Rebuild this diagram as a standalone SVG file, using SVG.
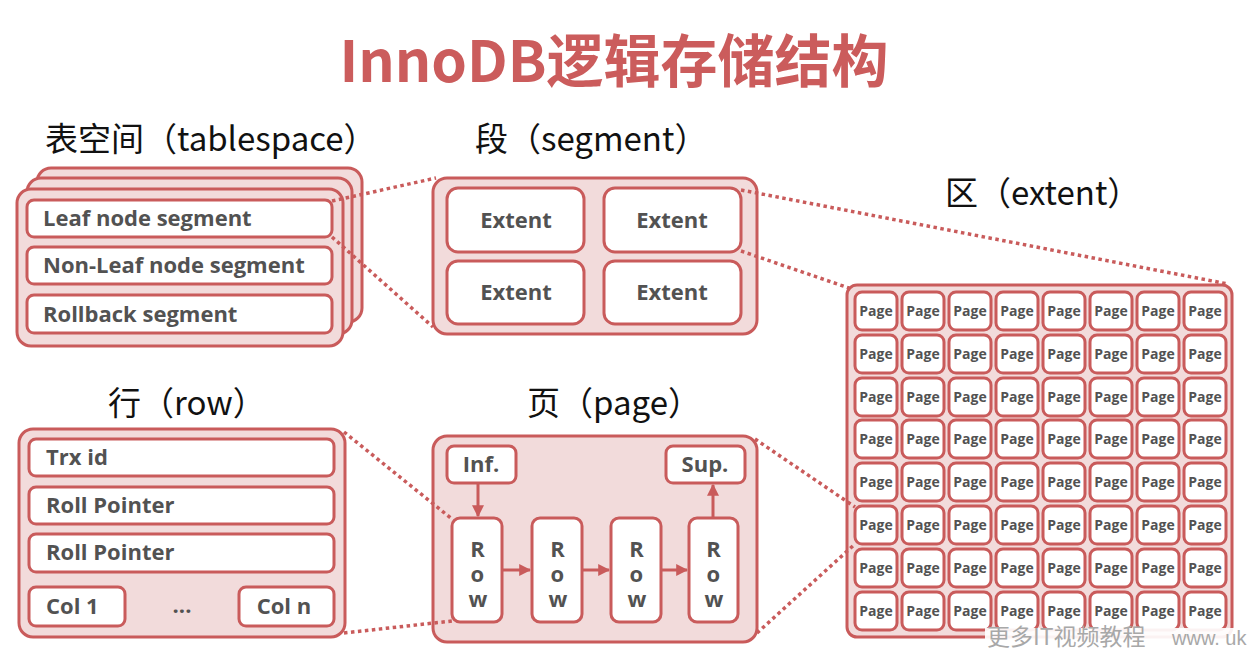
<svg xmlns="http://www.w3.org/2000/svg" width="1252" height="656" viewBox="0 0 1252 656">
<style>
.outer{fill:#F2DBDB;stroke:#C95B5B;stroke-width:3}
.inner{fill:#FFFFFF;stroke:#C95B5B;stroke-width:3}
.t{font-family:"Open Sans","Noto Sans CJK SC",sans-serif;font-weight:bold;font-size:22px;fill:#525252}
.c{text-anchor:middle}
.v{writing-mode:vertical-rl;text-orientation:upright;letter-spacing:-5px;text-anchor:middle}
.lbl{font-family:"Noto Sans CJK SC",sans-serif;font-size:33px;fill:#111111}
.dot{stroke:#C95B5B;stroke-width:3.5;stroke-dasharray:3.5 3.5;fill:none}
.arr{stroke:#C95B5B;stroke-width:3;fill:none}
.pg{font-family:"Open Sans","Noto Sans CJK SC",sans-serif;font-weight:bold;font-size:14px;fill:#525252;text-anchor:middle}
</style>
<defs>
<marker id="ah" viewBox="0 0 10 10" refX="9" refY="5" markerWidth="4" markerHeight="4" orient="auto" markerUnits="strokeWidth">
<path d="M0,0 L10,5 L0,10 z" fill="#C95B5B"/>
</marker>
<symbol id="page" overflow="visible">
<rect class="inner" x="0" y="0" width="42" height="38" rx="7"/>
<text class="pg" x="21" y="24">Page</text>
</symbol>
</defs>
<rect x="0" y="0" width="1252" height="656" fill="#FFFFFF"/>

<text id="title" x="614" y="82" text-anchor="middle" font-family="'Noto Sans CJK SC',sans-serif" font-weight="bold" font-size="57" fill="#CB5C5C">InnoDB逻辑存储结构</text>

<text class="lbl" x="45" y="151">表空间（tablespace）</text>
<text class="lbl" x="475" y="151">段（segment）</text>
<text class="lbl" x="945" y="205">区（extent）</text>
<text class="lbl" x="108" y="415">行（row）</text>
<text class="lbl" x="527" y="415">页（page）</text>

<g id="tablespace">
<rect class="outer" x="37" y="168" width="325" height="154" rx="14"/>
<rect class="outer" x="27" y="178" width="325" height="156" rx="14"/>
<rect class="outer" x="17" y="189" width="326" height="157" rx="14"/>
<g id="leaf-segment"><rect class="inner" x="27" y="200" width="305" height="37" rx="7"/><text class="t" x="43" y="226">Leaf node segment</text></g>
<g id="nonleaf-segment"><rect class="inner" x="27" y="247" width="305" height="37" rx="7"/><text class="t" x="43" y="273">Non-Leaf node segment</text></g>
<g id="rollback-segment"><rect class="inner" x="27" y="295" width="305" height="38" rx="7"/><text class="t" x="43" y="322">Rollback segment</text></g>
</g>

<g id="segment">
<rect class="outer" x="433" y="178" width="324" height="156" rx="14"/>
<g id="extent-1"><rect class="inner" x="447" y="188" width="137" height="64" rx="11"/><text class="t c" x="516" y="228">Extent</text></g>
<g id="extent-2"><rect class="inner" x="604" y="188" width="137" height="64" rx="11"/><text class="t c" x="672" y="228">Extent</text></g>
<g id="extent-3"><rect class="inner" x="447" y="261" width="137" height="63" rx="11"/><text class="t c" x="516" y="300">Extent</text></g>
<g id="extent-4"><rect class="inner" x="604" y="261" width="137" height="63" rx="11"/><text class="t c" x="672" y="300">Extent</text></g>
</g>

<g id="extent">
<rect class="outer" x="847" y="285" width="385" height="352" rx="10"/>
<g id="pages-r1"><use href="#page" x="855" y="292"/><use href="#page" x="902" y="292"/><use href="#page" x="949" y="292"/><use href="#page" x="996" y="292"/><use href="#page" x="1043" y="292"/><use href="#page" x="1090" y="292"/><use href="#page" x="1137" y="292"/><use href="#page" x="1184" y="292"/></g>
<g id="pages-r2"><use href="#page" x="855" y="335"/><use href="#page" x="902" y="335"/><use href="#page" x="949" y="335"/><use href="#page" x="996" y="335"/><use href="#page" x="1043" y="335"/><use href="#page" x="1090" y="335"/><use href="#page" x="1137" y="335"/><use href="#page" x="1184" y="335"/></g>
<g id="pages-r3"><use href="#page" x="855" y="378"/><use href="#page" x="902" y="378"/><use href="#page" x="949" y="378"/><use href="#page" x="996" y="378"/><use href="#page" x="1043" y="378"/><use href="#page" x="1090" y="378"/><use href="#page" x="1137" y="378"/><use href="#page" x="1184" y="378"/></g>
<g id="pages-r4"><use href="#page" x="855" y="420"/><use href="#page" x="902" y="420"/><use href="#page" x="949" y="420"/><use href="#page" x="996" y="420"/><use href="#page" x="1043" y="420"/><use href="#page" x="1090" y="420"/><use href="#page" x="1137" y="420"/><use href="#page" x="1184" y="420"/></g>
<g id="pages-r5"><use href="#page" x="855" y="463"/><use href="#page" x="902" y="463"/><use href="#page" x="949" y="463"/><use href="#page" x="996" y="463"/><use href="#page" x="1043" y="463"/><use href="#page" x="1090" y="463"/><use href="#page" x="1137" y="463"/><use href="#page" x="1184" y="463"/></g>
<g id="pages-r6"><use href="#page" x="855" y="506"/><use href="#page" x="902" y="506"/><use href="#page" x="949" y="506"/><use href="#page" x="996" y="506"/><use href="#page" x="1043" y="506"/><use href="#page" x="1090" y="506"/><use href="#page" x="1137" y="506"/><use href="#page" x="1184" y="506"/></g>
<g id="pages-r7"><use href="#page" x="855" y="549"/><use href="#page" x="902" y="549"/><use href="#page" x="949" y="549"/><use href="#page" x="996" y="549"/><use href="#page" x="1043" y="549"/><use href="#page" x="1090" y="549"/><use href="#page" x="1137" y="549"/><use href="#page" x="1184" y="549"/></g>
<g id="pages-r8"><use href="#page" x="855" y="592"/><use href="#page" x="902" y="592"/><use href="#page" x="949" y="592"/><use href="#page" x="996" y="592"/><use href="#page" x="1043" y="592"/><use href="#page" x="1090" y="592"/><use href="#page" x="1137" y="592"/><use href="#page" x="1184" y="592"/></g>
</g>

<g id="row">
<rect class="outer" x="19" y="429" width="326" height="208" rx="14"/>
<g id="trx-id"><rect class="inner" x="29" y="439" width="305" height="37" rx="7"/><text class="t" x="46" y="465">Trx id</text></g>
<g id="roll-pointer-1"><rect class="inner" x="29" y="487" width="305" height="37" rx="7"/><text class="t" x="46" y="513">Roll Pointer</text></g>
<g id="roll-pointer-2"><rect class="inner" x="29" y="534" width="305" height="38" rx="7"/><text class="t" x="46" y="560">Roll Pointer</text></g>
<g id="col-1"><rect class="inner" x="29" y="587" width="96" height="39" rx="7"/><text class="t" x="46" y="614">Col 1</text></g>
<text class="t c" x="182" y="613">...</text>
<g id="col-n"><rect class="inner" x="239" y="587" width="95" height="39" rx="7"/><text class="t c" x="284" y="614">Col n</text></g>
</g>

<g id="page-box">
<rect class="outer" x="433" y="436" width="324" height="206" rx="14"/>
<g id="inf"><rect class="inner" x="447" y="446" width="69" height="37" rx="7"/><text class="t c" x="481" y="472">Inf.</text></g>
<g id="sup"><rect class="inner" x="666" y="446" width="79" height="37" rx="7"/><text class="t c" x="705" y="472">Sup.</text></g>
<g id="row-1"><rect class="inner" x="452" y="518" width="50" height="104" rx="8"/><text class="t v" x="477" y="570">Row</text></g>
<g id="row-2"><rect class="inner" x="532" y="518" width="50" height="104" rx="8"/><text class="t v" x="557" y="570">Row</text></g>
<g id="row-3"><rect class="inner" x="611" y="518" width="50" height="104" rx="8"/><text class="t v" x="636" y="570">Row</text></g>
<g id="row-4"><rect class="inner" x="689" y="518" width="49" height="104" rx="8"/><text class="t v" x="713" y="570">Row</text></g>
</g>

<g id="connectors">
<line class="dot" x1="332" y1="201" x2="436" y2="178"/>
<line class="dot" x1="332" y1="237" x2="433" y2="327"/>
<line class="dot" x1="741" y1="190" x2="1228" y2="284"/>
<line class="dot" x1="741" y1="251" x2="849" y2="288"/>
<line class="dot" x1="344" y1="432" x2="452" y2="519"/>
<line class="dot" x1="344" y1="633" x2="452" y2="621"/>
<line class="dot" x1="755" y1="439" x2="855" y2="507"/>
<line class="dot" x1="757" y1="633" x2="855" y2="544"/>
<line class="arr" x1="478" y1="483" x2="478" y2="516" marker-end="url(#ah)"/>
<line class="arr" x1="503" y1="570" x2="530" y2="570" marker-end="url(#ah)"/>
<line class="arr" x1="583" y1="570" x2="609" y2="570" marker-end="url(#ah)"/>
<line class="arr" x1="662" y1="570" x2="687" y2="570" marker-end="url(#ah)"/>
<line class="arr" x1="713" y1="518" x2="713" y2="485" marker-end="url(#ah)"/>
</g>

<g id="watermark">
<rect x="985" y="628" width="267" height="28" fill="#FFFFFF" fill-opacity="0.92"/>
<text x="987" y="645" font-family="'Noto Sans CJK SC',sans-serif" font-size="23" fill="#A8A8A8">更多IT视频教程</text>
<text x="1172" y="645" font-family="'Liberation Sans',sans-serif" font-size="20" fill="#A8A8A8">www. uk</text>
</g>
</svg>
